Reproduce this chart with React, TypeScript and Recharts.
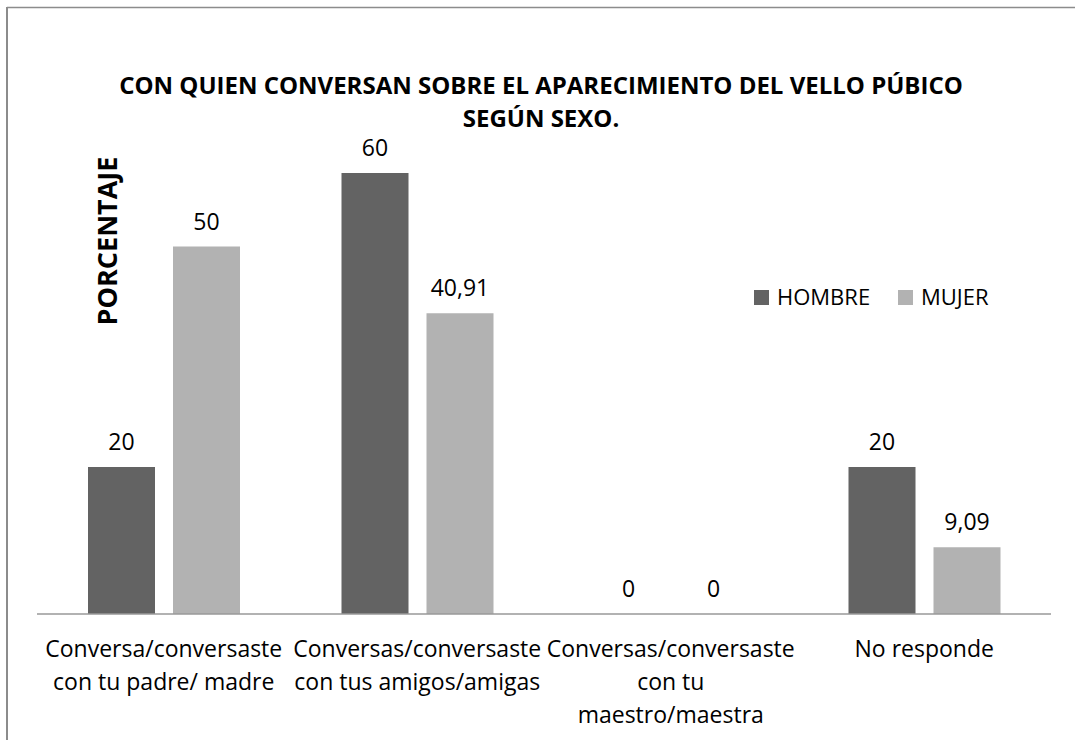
import { Bar, BarChart, Customized, LabelList, XAxis, YAxis } from 'recharts';

const FONT = "'Open Sans', sans-serif";

const CATEGORIES = [
  'Conversa/conversaste con tu padre/ madre',
  'Conversas/conversaste con tus amigos/amigas',
  'Conversas/conversaste con tu maestro/maestra',
  'No responde',
];
const TICK_LINES = [
  ['Conversa/conversaste', 'con tu padre/ madre'],
  ['Conversas/conversaste', 'con tus amigos/amigas'],
  ['Conversas/conversaste', 'con tu', 'maestro/maestra'],
  ['No responde'],
];
const HOMBRE = [20, 60, 0, 20];
const MUJER = [50, 40.91, 0, 9.09];

const TITLE_LINES = ['CON QUIEN CONVERSAN SOBRE EL APARECIMIENTO DEL VELLO PÚBICO', 'SEGÚN SEXO.'];
const Y_LABEL = 'PORCENTAJE';

const SERIES = [
  { key: 'HOMBRE', color: '#636363' },
  { key: 'MUJER', color: '#b2b2b2' },
];

const data = CATEGORIES.map((name, i) => ({ name, HOMBRE: HOMBRE[i], MUJER: MUJER[i] }));

const fmt = (v: unknown) => String(v).replace('.', ',');

function CategoryTick(props: any) {
  const { x, y, payload } = props;
  const lines = TICK_LINES[CATEGORIES.indexOf(payload.value)] ?? [];
  return (
    <text x={x} y={y} textAnchor="middle" fontFamily={FONT} fontSize={23} fill="#000">
      {lines.map((l, i) => (
        <tspan key={i} x={x} dy={i === 0 ? 43 : 33}>
          {l}
        </tspan>
      ))}
    </text>
  );
}

// etiqueta encima de la barra, también cuando vale 0
function ValueLabel(props: any) {
  const { x, y, width, value } = props;
  return (
    <text
      x={Number(x) + Number(width) / 2}
      y={Number(y) - 17}
      textAnchor="middle"
      fontFamily={FONT}
      fontSize={23}
      fill="#000"
    >
      {fmt(value)}
    </text>
  );
}

function Decorations() {
  return (
    <g>
      <line x1={7} y1={7.5} x2={1075} y2={7.5} stroke="#8c8c8c" strokeWidth={1.5} />
      <line x1={7} y1={7} x2={7} y2={740} stroke="#8c8c8c" strokeWidth={2} />
      <text textAnchor="middle" fontFamily={FONT} fontWeight="bold" fontSize={24} fill="#000">
        {TITLE_LINES.map((l, i) => (
          <tspan key={i} x={541} y={94 + i * 33}>
            {l}
          </tspan>
        ))}
      </text>
      <text
        x={117}
        y={241}
        transform="rotate(-90 117 241)"
        textAnchor="middle"
        fontFamily={FONT}
        fontWeight="bold"
        fontSize={27}
        fill="#000"
      >
        {Y_LABEL}
      </text>
      {SERIES.map((s, i) => {
        const x0 = 754 + i * 144;
        return (
          <g key={s.key}>
            <rect x={x0} y={290} width={15} height={15} fill={s.color} />
            <text x={x0 + 23} y={305} fontFamily={FONT} fontSize={22} fill="#000">
              {s.key}
            </text>
          </g>
        );
      })}
    </g>
  );
}

export default function App() {
  return (
    <div style={{ position: 'fixed', left: 0, top: 0, width: 1075, height: 740, background: '#fff' }}>
      <BarChart
        width={1075}
        height={740}
        data={data}
        margin={{ top: 173, right: 24, left: 37, bottom: 0 }}
        barSize={67}
        barGap={18}
      >
        <Customized component={Decorations} />
        <XAxis
          dataKey="name"
          height={126}
          interval={0}
          tickLine={false}
          tickSize={0}
          tickMargin={0}
          axisLine={{ stroke: '#999999', strokeWidth: 1.5 }}
          tick={<CategoryTick />}
        />
        <YAxis hide domain={[0, 60]} />
        {SERIES.map((s) => (
          <Bar key={s.key} dataKey={s.key} fill={s.color} minPointSize={0.01} isAnimationActive={false}>
            <LabelList dataKey={s.key} content={<ValueLabel />} />
          </Bar>
        ))}
      </BarChart>
    </div>
  );
}
